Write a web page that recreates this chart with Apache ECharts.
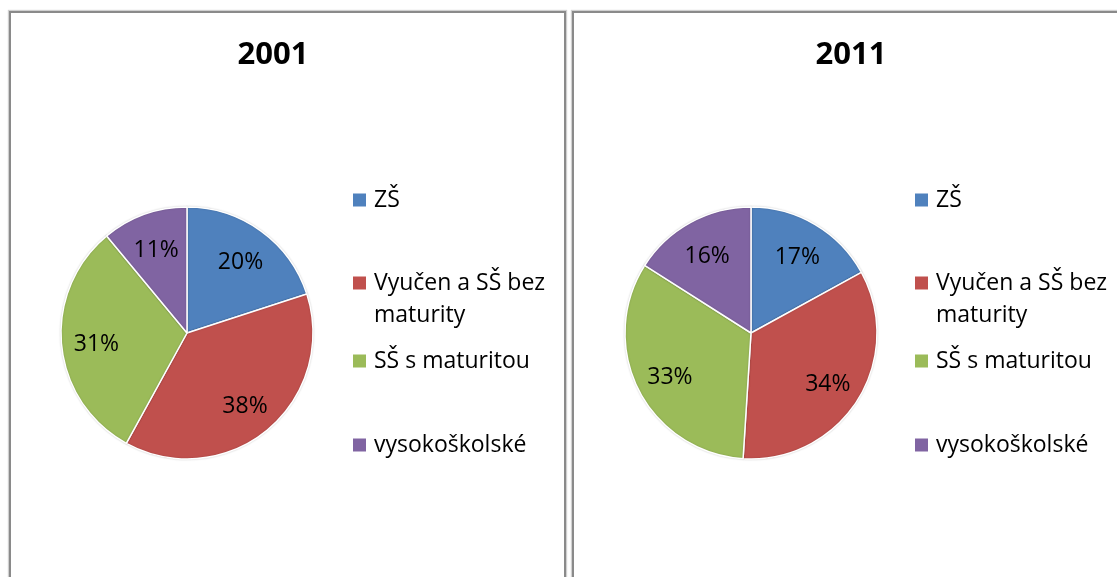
<!DOCTYPE html>
<html>
<head>
<meta charset="utf-8">
<script src="https://cdn.jsdelivr.net/npm/echarts@6/dist/echarts.min.js"></script>
<style>
  html, body { margin: 0; padding: 0; background: #ffffff; overflow: hidden; }
  #wrap { position: relative; width: 1117px; height: 577px; }
  .panel { position: absolute; border: 2px solid #8a8a8a; box-shadow: 0 0 1px 1px #d0d0d0; background: #fff; }
  #p1 { left: 9px; top: 11px; width: 553px; height: 620px; }
  #p2 { left: 572px; top: 11px; width: 620px; height: 620px; }
  #chart { position: absolute; left: 0; top: 0; width: 1117px; height: 577px; }
</style>
</head>
<body>
<div id="wrap">
  <div class="panel" id="p1"></div>
  <div class="panel" id="p2"></div>
  <div id="chart"></div>
</div>
<script>
// ---- data ----
const categories = ['ZŠ', 'Vyučen a SŠ bez maturity', 'SŠ s maturitou', 'vysokoškolské'];
const years = ['2001', '2011'];
const values2001 = [20, 38, 31, 11];
const values2011 = [17, 34, 33, 16];

const colors = ['#4F81BD', '#C0504D', '#9BBB59', '#8064A2'];
const FONT = '"Open Sans", "Liberation Sans", sans-serif';

const chart = echarts.init(document.getElementById('chart'), null, { renderer: 'canvas' });

const panels = [
  { year: years[0], values: values2001, cx: 187, cy: 333, titleX: 273, legendX: 353 },
  { year: years[1], values: values2011, cx: 751, cy: 333, titleX: 851, legendX: 915 }
];
const legendTops = [184, 235, 345, 429];

const series = [];
const titles = [];
const legends = [];

panels.forEach((p, pi) => {
  const data = categories.map((c, i) => ({ name: c, value: p.values[i] }));
  titles.push({
    text: p.year,
    left: p.titleX,
    top: 37,
    textAlign: 'center',
    padding: 0,
    textStyle: { fontFamily: FONT, fontWeight: 'bold', fontSize: 31, lineHeight: 36, color: '#000' }
  });
  series.push({
    type: 'pie',
    name: p.year,
    center: [p.cx, p.cy],
    radius: [0, 126],
    startAngle: 90,
    clockwise: true,
    silent: true,
    animation: false,
    color: colors,
    itemStyle: { borderColor: '#ffffff', borderWidth: 1.5, shadowColor: 'rgba(0,0,0,0.18)', shadowBlur: 2 },
    label: { show: false },
    labelLine: { show: false },
    data: data
  });
  series.push({
    type: 'pie',
    name: p.year + ' labels',
    center: [p.cx, p.cy],
    radius: [50, 126],
    startAngle: 90,
    clockwise: true,
    silent: true,
    animation: false,
    itemStyle: { color: 'rgba(0,0,0,0)', borderWidth: 0 },
    label: {
      show: true,
      position: 'inside',
      formatter: (d) => d.value + '%',
      fontFamily: FONT,
      fontSize: 23,
      color: '#000',
      offset: [0, 3]
    },
    labelLine: { show: false },
    emphasis: { disabled: true },
    data: data
  });
  categories.forEach((c, i) => {
    const twoLine = c.indexOf('bez maturity') >= 0;
    legends.push({
      orient: 'vertical',
      left: p.legendX,
      top: legendTops[i],
      padding: 0,
      icon: 'rect',
      itemWidth: 13,
      itemHeight: 13,
      itemStyle: { borderWidth: 0, shadowBlur: 0 },
      selectedMode: false,
      data: [c],
      // the wrapped item is centred on its marker; a leading empty line keeps the marker on the first line
      formatter: (name) => twoLine ? '\n' + name.replace('bez ', 'bez\n') : name,
      textStyle: {
        fontFamily: FONT,
        fontSize: 23,
        lineHeight: 32,
        color: '#000',
        padding: [0, 0, 0, 3]
      }
    });
  });
});

chart.setOption({
  backgroundColor: 'transparent',
  animation: false,
  color: colors,
  title: titles,
  legend: legends,
  series: series
});
</script>
</body>
</html>
